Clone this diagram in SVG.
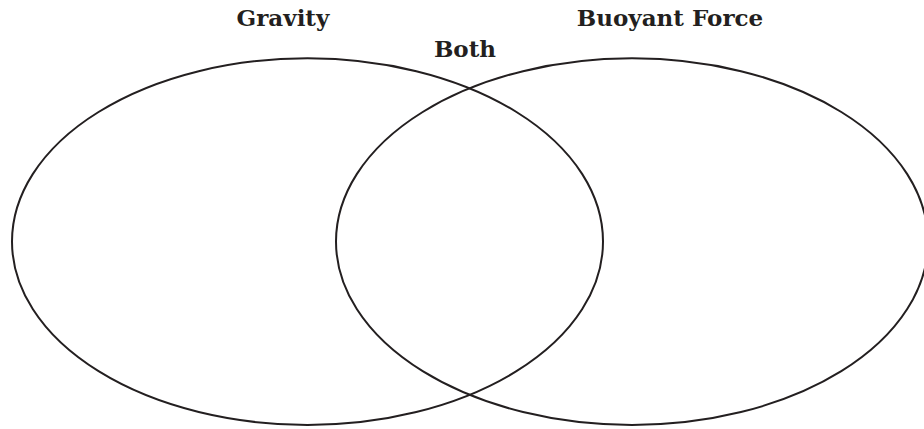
<svg xmlns="http://www.w3.org/2000/svg" width="924" height="429" viewBox="0 0 924 429">
<style>
.set{fill:none;stroke:#231f20;stroke-width:2}
.lbl{font-family:"DejaVu Serif","Liberation Serif",serif;font-weight:bold;font-size:23px;fill:#231f20;text-anchor:middle}
</style>
<rect width="924" height="429" fill="#ffffff"/>
<g id="gravity">
<ellipse class="set" cx="307.5" cy="241.6" rx="295.5" ry="183.3"/>
<text class="lbl" x="283" y="26">Gravity</text>
</g>
<g id="buoyant">
<ellipse class="set" cx="632" cy="241.6" rx="296" ry="183.3"/>
<text class="lbl" x="670" y="26">Buoyant Force</text>
</g>
<g id="both">
<text class="lbl" x="465" y="57">Both</text>
</g>
<g id="connectors"/>
</svg>
